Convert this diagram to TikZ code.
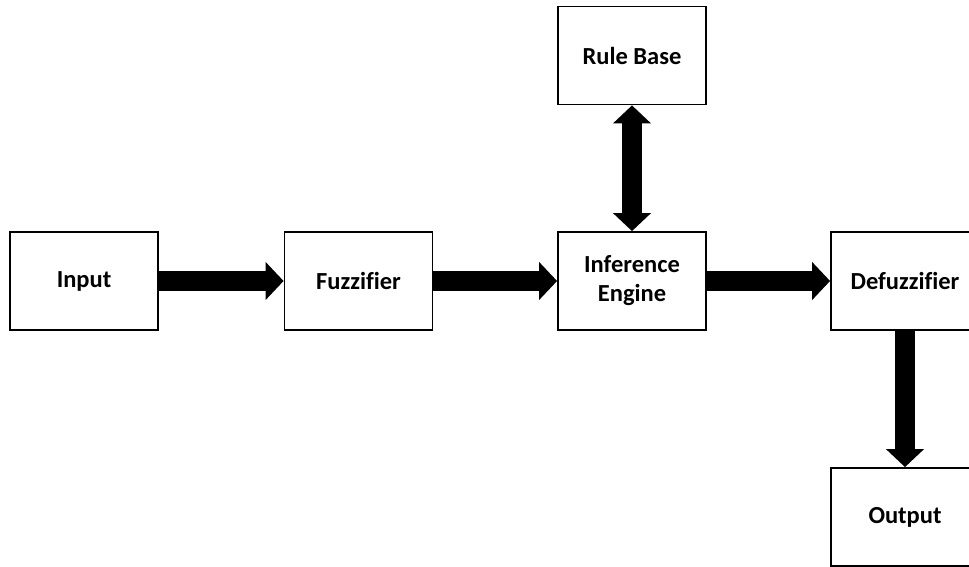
\documentclass[tikz,border=0pt]{standalone}
\usepackage{fontspec}
\setmainfont{Carlito}[Ligatures=NoCommon]
\usetikzlibrary{arrows.meta}
\begin{document}
\begin{tikzpicture}[x=1pt,y=-1pt,
  blk/.style={draw=black, line width=1.8pt, fill=white, minimum width=148pt, minimum height=98pt, inner sep=0pt, font=\fontsize{24.5}{29}\selectfont\bfseries, align=center},
  flow/.style={line width=20pt, -{Triangle[length=18pt,width=37pt]}},
  flow2/.style={line width=20pt, {Triangle[length=18pt,width=37pt]}-{Triangle[length=18pt,width=37pt]}}]
\useasboundingbox (0,0) rectangle (969,567);
\clip (0,0) rectangle (969,567);
\node[blk] (in) at (84,281) {Input};
\node[blk] (fz) at (358.5,281) {Fuzzifier};
\node[blk] (ie) at (632,281) {Inference\\Engine};
\node[blk] (rb) at (632,55.5) {Rule Base};
\node[blk] (df) at (905,281) {Defuzzifier};
\node[blk] (out) at (905,517) {Output};
\draw[flow] (in) -- (fz);
\draw[flow] (fz) -- (ie);
\draw[flow] (ie) -- (df);
\draw[flow2] (rb) -- (ie);
\draw[flow] (df) -- (out);
\end{tikzpicture}
\end{document}
